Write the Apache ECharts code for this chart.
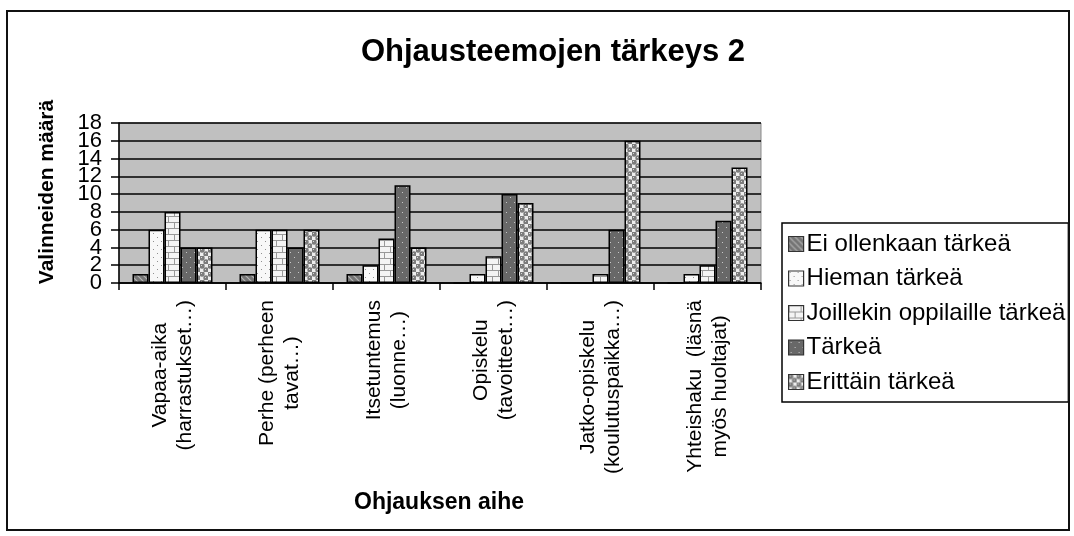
<!DOCTYPE html>
<html>
<head>
<meta charset="utf-8">
<script src="https://cdn.jsdelivr.net/npm/echarts@6/dist/echarts.min.js"></script>
<style>
html,body{margin:0;padding:0;background:#fff;}
#chart{width:1074px;height:536px;}
</style>
</head>
<body>
<div id="chart"></div>
<script>
// ---- data ----
const chartTitle = 'Ohjausteemojen tärkeys 2';
const yAxisTitle = 'Valinneiden määrä';
const xAxisTitle = 'Ohjauksen aihe';
const categories = [
  'Vapaa-aika\n(harrastukset\u2026)',
  'Perhe (perheen\ntavat\u2026)',
  'Itsetuntemus\n(luonne\u2026)',
  'Opiskelu\n(tavoitteet\u2026)',
  'Jatko-opiskelu\n(koulutuspaikka\u2026)',
  'Yhteishaku  (läsnä\nmyös huoltajat)'
];
const seriesNames = ['Ei ollenkaan tärkeä', 'Hieman tärkeä', 'Joillekin oppilaille tärkeä', 'Tärkeä', 'Erittäin tärkeä'];
const eiOllenkaan = [1, 1, 1, 0, 0, 0];
const hieman      = [6, 6, 2, 1, 0, 1];
const joillekin   = [8, 6, 5, 3, 1, 2];
const tarkea      = [4, 4, 11, 10, 6, 7];
const erittain    = [4, 6, 4, 9, 16, 13];
const yTicks = { min: 0, max: 18, interval: 2 };
const yTickLabelsA = [0, 4, 8, 12, 16];   // drawn by first y axis
const yTickLabelsB = [2, 6, 10, 14, 18];  // drawn by overlaid second y axis

// ---- patterns (styling only) ----
function pat(w, h, draw) {
  const c = document.createElement('canvas');
  c.width = w; c.height = h;
  const ctx = c.getContext('2d');
  draw(ctx, w, h);
  return { image: c, repeat: 'repeat' };
}
const patterns = [
  pat(6, 6, (x) => { // diagonal hatch on mid gray
    x.fillStyle = '#747474'; x.fillRect(0, 0, 6, 6);
    x.strokeStyle = '#b4b4b4'; x.lineWidth = 1.2;
    x.beginPath();
    x.moveTo(-1, -1); x.lineTo(7, 7);
    x.moveTo(-4, 2); x.lineTo(4, 10);
    x.moveTo(2, -4); x.lineTo(10, 4);
    x.stroke();
  }),
  pat(8, 8, (x) => { // white with sparse dots
    x.fillStyle = '#f8f8f8'; x.fillRect(0, 0, 8, 8);
    x.fillStyle = '#909090';
    x.fillRect(1, 1, 1, 1); x.fillRect(5, 5, 1, 1);
  }),
  pat(12, 12, (x) => { // brick
    x.fillStyle = '#f4f4f4'; x.fillRect(0, 0, 12, 12);
    x.fillStyle = '#999';
    x.fillRect(0, 0, 12, 1); x.fillRect(0, 6, 12, 1);
    x.fillRect(0, 0, 1, 6); x.fillRect(6, 6, 1, 6);
  }),
  pat(8, 10, (x) => { // dark gray with light dots
    x.fillStyle = '#686868'; x.fillRect(0, 0, 8, 10);
    x.fillStyle = '#c8c8c8';
    x.fillRect(2, 2, 1, 1); x.fillRect(6, 7, 1, 1);
  }),
  pat(8, 8, (x) => { // balls
    x.fillStyle = '#eeeeee'; x.fillRect(0, 0, 8, 8);
    x.fillStyle = '#7c7c7c';
    x.beginPath(); x.arc(2, 2, 2.7, 0, Math.PI * 2); x.fill();
    x.beginPath(); x.arc(6, 6, 2.7, 0, Math.PI * 2); x.fill();
    x.fillStyle = '#d6d6d6';
    x.fillRect(1, 1, 1, 1); x.fillRect(5, 5, 1, 1);
  })
];

const seriesData = [eiOllenkaan, hieman, joillekin, tarkea, erittain];
const FONT = "'Liberation Sans', Arial, sans-serif";
const yLabelStyle = { fontFamily: FONT, fontSize: 22, color: '#000', margin: 17,
  showMinLabel: true, showMaxLabel: true };

const chart = echarts.init(document.getElementById('chart'), null, { renderer: 'canvas' });
chart.setOption({
  animation: false,
  backgroundColor: '#fff',
  title: {
    text: chartTitle,
    left: 548, top: 32, textAlign: 'center',
    textStyle: { fontFamily: FONT, fontSize: 31, fontWeight: 'bold', color: '#000' }
  },
  grid: {
    left: 119, top: 123, width: 642, height: 160,
    show: true, backgroundColor: '#c0c0c0', borderColor: '#8a8a8a', borderWidth: 1,
    outerBoundsMode: 'none', containLabel: false
  },
  legend: {
    orient: 'vertical', left: 782, top: 223,
    padding: [9, 3, 8, 6],
    itemWidth: 15, itemHeight: 15, itemGap: 10.5,
    icon: 'rect',
    borderColor: '#000', borderWidth: 1.5,
    textStyle: { fontFamily: FONT, fontSize: 24, color: '#000', padding: [0, 0, 0, -2] },
    itemStyle: { borderColor: '#333', borderWidth: 1.2 },
    data: seriesNames
  },
  xAxis: {
    type: 'category', data: categories,
    axisLine: { lineStyle: { color: '#000', width: 1.5 } },
    axisTick: { show: true, length: 7, lineStyle: { color: '#000', width: 1.5 } },
    axisLabel: {
      rotate: 90, margin: 17, interval: 0,
      formatter: (v) => v.split('\n').map(l => '{c|' + l + '}').join('\n'),
      rich: { c: { align: 'center', fontFamily: FONT, fontSize: 21, lineHeight: 25, color: '#000' } }
    },
    splitLine: { show: false }
  },
  yAxis: [
    {
      type: 'value', min: yTicks.min, max: yTicks.max, interval: yTicks.interval,
      position: 'left',
      axisLine: { show: true, lineStyle: { color: '#000', width: 1.5 } },
      axisTick: { show: true, length: 8, lineStyle: { color: '#000', width: 1.5 } },
      axisLabel: Object.assign({}, yLabelStyle, {
        formatter: (v) => yTickLabelsA.indexOf(v) >= 0 ? String(v) : '' }),
      splitLine: { show: true, lineStyle: { color: '#000', width: 1.5 } }
    },
    {
      type: 'value', min: yTicks.min, max: yTicks.max, interval: yTicks.interval,
      position: 'left', offset: 0,
      axisLine: { show: false }, axisTick: { show: false }, splitLine: { show: false },
      axisLabel: Object.assign({}, yLabelStyle, {
        formatter: (v) => yTickLabelsB.indexOf(v) >= 0 ? String(v) : '' })
    }
  ],
  graphic: [
    { type: 'rect', silent: true, z: 100,
      shape: { x: 7, y: 11, width: 1062, height: 519 },
      style: { fill: 'none', stroke: '#111', lineWidth: 2 } },
    { type: 'text', silent: true, x: 47, y: 192, rotation: Math.PI / 2,
      style: { text: yAxisTitle, font: 'bold 21px ' + FONT, fill: '#000', textAlign: 'center', textVerticalAlign: 'middle' } },
    { type: 'text', silent: true, x: 439, y: 503,
      style: { text: xAxisTitle, font: 'bold 23px ' + FONT, fill: '#000', textAlign: 'center', textVerticalAlign: 'middle' } }
  ],
  series: seriesData.map((d, i) => ({
    name: seriesNames[i], type: 'bar', data: d, yAxisIndex: 0,
    barWidth: 16, barGap: '0%',
    itemStyle: { color: patterns[i], borderColor: '#000', borderWidth: 1.5 }
  }))
});
</script>
</body>
</html>
